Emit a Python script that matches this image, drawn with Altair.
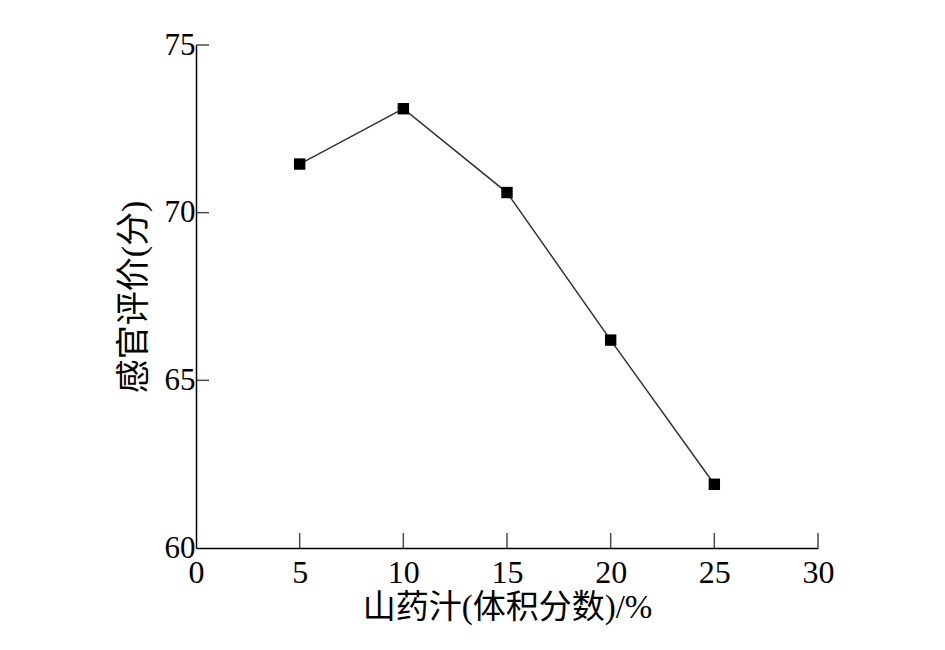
import altair as alt
import pandas as pd

# Data
x_vals = [5, 10, 15, 20, 25]
y_vals = [71.45, 73.1, 70.6, 66.2, 61.9]
x_tick_values = [0, 5, 10, 15, 20, 25, 30]
y_tick_values = [60, 65, 70, 75]
x_inner_ticks = [5, 10, 15, 20, 25, 30]
y_inner_ticks = [65, 70, 75]

df = pd.DataFrame({"x": x_vals, "y": y_vals})
xt = pd.DataFrame({"t": x_inner_ticks})
yt = pd.DataFrame({"t": y_inner_ticks})

FONT = "Liberation Serif, Noto Sans CJK SC"
xscale = alt.Scale(domain=[0, 30], nice=False, zero=False)
yscale = alt.Scale(domain=[60, 75], nice=False, zero=False)

xaxis = alt.Axis(values=x_tick_values, title="山药汁(体积分数)/%", grid=False,
                 tickSize=0, labelPadding=9, labelFlush=False,
                 domainColor="black", domainWidth=1.5,
                 labelFont=FONT, labelFontSize=32, labelColor="black",
                 titleFont=FONT, titleFontSize=33, titleFontWeight="normal",
                 titleColor="black", titlePadding=3, format="d")
yaxis = alt.Axis(values=y_tick_values, title="感官评价(分)", grid=False,
                 tickSize=0, labelPadding=1, labelFlush=False,
                 domainColor="black", domainWidth=1.5,
                 labelFont=FONT, labelFontSize=31, labelColor="black",
                 titleFont=FONT, titleFontSize=34, titleFontWeight="normal",
                 titleColor="black", titlePadding=13, format="d")

base = alt.Chart(df)

line = base.mark_line(color="#333333", strokeWidth=1.5).encode(
    x=alt.X("x:Q", scale=xscale, axis=xaxis),
    y=alt.Y("y:Q", scale=yscale, axis=yaxis),
)
pts = base.mark_square(size=130, color="black", opacity=1).encode(
    x=alt.X("x:Q", scale=xscale),
    y=alt.Y("y:Q", scale=yscale),
)
xticks = alt.Chart(xt).mark_tick(orient="vertical", size=15, thickness=1.5,
                                 color="black", yOffset=-7.5).encode(
    x=alt.X("t:Q", scale=xscale),
    y=alt.YDatum(60),
)
yticks = alt.Chart(yt).mark_tick(orient="horizontal", size=13, thickness=1.5,
                                 color="black", xOffset=6.5).encode(
    y=alt.Y("t:Q", scale=yscale),
    x=alt.XDatum(0),
)

chart = alt.layer(line, pts, xticks, yticks).properties(
    width=622, height=503,
    autosize=alt.AutoSizeParams(type="none"),
    padding={"left": 188, "top": 37, "right": 110, "bottom": 90},
    background="white",
).configure_view(stroke=None)

chart.save("out.html", embed_options={"renderer": "svg", "actions": False})
